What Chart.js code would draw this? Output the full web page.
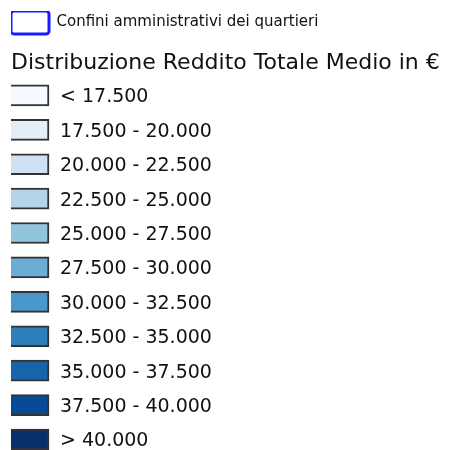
<!DOCTYPE html>
<html>
<head>
<meta charset="utf-8">
<script src="https://cdn.jsdelivr.net/npm/chart.js@4"></script>
<style>
  html, body { margin: 0; padding: 0; background: #fff; }
  #wrap { width: 451px; height: 450px; }
</style>
</head>
<body>
<div id="wrap"><canvas id="legendaChart" width="451" height="450"></canvas></div>
<script>
// Classi di reddito (etichette della legenda)
const classi = [
    "< 17.500",
    "17.500 - 20.000",
    "20.000 - 22.500",
    "22.500 - 25.000",
    "25.000 - 27.500",
    "27.500 - 30.000",
    "30.000 - 32.500",
    "32.500 - 35.000",
    "35.000 - 37.500",
    "37.500 - 40.000",
    "> 40.000"
];
// Ogni classe occupa un riquadro della stessa lunghezza
const valori = [1, 1, 1, 1, 1, 1, 1, 1, 1, 1, 1];
// Colori delle classi (scala Blues)
const colori = [
    "#f7fbff", "#e3eef9", "#cfe1f2", "#b5d4e9", "#93c4de", "#6aaed6",
    "#4a98c9", "#2e7ebc", "#1764ab", "#084a97", "#08306b"
];
const titolo = "Distribuzione Reddito Totale Medio in €";
const etichettaConfini = "Confini amministrativi dei quartieri";

const FONT = "'DejaVu Sans', Verdana, sans-serif";

let legendaChart;  // istanza globale del grafico

function createChart() {
    const ctx = document.getElementById("legendaChart").getContext("2d");

    if (legendaChart) {
        legendaChart.destroy();
    }

    legendaChart = new Chart(ctx, {
        type: "bar",
        data: {
            labels: classi,
            datasets: [{
                label: "Reddito",
                data: valori,
                backgroundColor: colori,
                borderColor: "#333333",
                borderWidth: 2,
                barThickness: 21,
                grouped: false,
                clip: false
            }, {
                label: etichettaConfini,  // solo voce di legenda
                data: [],
                backgroundColor: "#ffffff",
                borderColor: "#1a1aff",
                borderWidth: 3,
                borderRadius: 3,
                grouped: false
            }]
        },
        options: {
            indexAxis: "y",
            responsive: false,
            animation: false,
            layout: {
                padding: { left: 11, top: 11, right: 0, bottom: 10.5 }
            },
            plugins: {
                legend: {
                    position: "top",
                    align: "start",
                    weight: 3000,  // sopra il titolo
                    labels: {
                        filter: item => item.datasetIndex === 1,
                        boxWidth: 38,
                        boxHeight: 23,
                        padding: 0,
                        color: "#111",
                        useBorderRadius: true,
                        borderRadius: 3,
                        font: { family: FONT, size: 15 }
                    }
                },
                title: {
                    display: true,
                    text: titolo,
                    align: "start",
                    color: "#111",
                    font: { family: FONT, size: 22, weight: "normal" },
                    padding: { top: 6, bottom: 19 }
                },
                tooltip: { enabled: false }
            },
            scales: {
                x: {
                    display: false,
                    min: 0,
                    max: 1
                },
                y: {
                    position: "right",
                    offset: false,
                    grid: { display: false },
                    border: { display: false },
                    ticks: {
                        color: "#111",
                        padding: 3,
                        labelOffset: 2,
                        font: { family: FONT, size: 19 }
                    },
                    afterFit: scale => {
                        scale.width = 402;  // area del grafico larga quanto i riquadri
                        scale.paddingTop = 0;
                        scale.paddingBottom = 0;
                    }
                }
            }
        }
    });
}

createChart();
</script>
</body>
</html>
